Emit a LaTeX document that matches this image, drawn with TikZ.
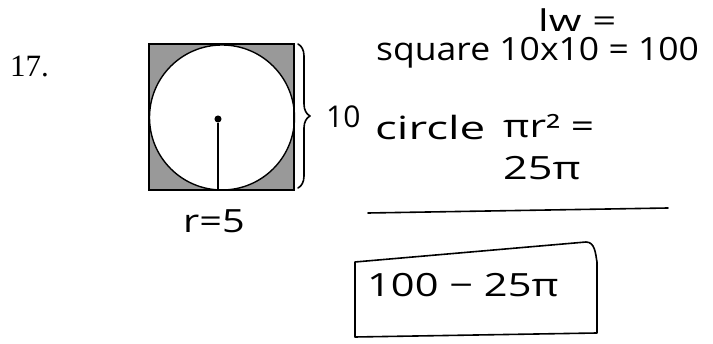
\documentclass[tikz,border=0pt]{standalone}
\usepackage{fontspec}
\setmainfont{Liberation Serif}
\newfontfamily\handfont{Open Sans}
\usetikzlibrary{decorations.pathreplacing,positioning}
\newcommand{\wider}[2]{\scalebox{#1}[1]{#2}}
\begin{document}
\begin{tikzpicture}[x=1pt, y=-1pt,
  hand/.style={font=\handfont\fontsize{32}{32}\selectfont, inner sep=0pt, anchor=base west},
  ink/.style={line width=1.6pt, line cap=round, line join=round}]
\useasboundingbox (0,0) rectangle (713,344);
% the figure
\coordinate (sq) at (222,117.5);
\fill[black!40] (149,44) rectangle (294,190);
\fill[white] (sq) circle (72.5);
\draw[line width=2pt] (149,44) rectangle (294,190);
\draw[line width=1.4pt] (sq) circle (72.5);
\node[circle, fill, inner sep=2.5pt] (ctr) at (218,119) {};
\coordinate (foot) at (218,190);
\draw[line width=1.8pt] (ctr) -- (foot);
\node[font=\fontsize{31}{31}\selectfont, anchor=base west, inner sep=0pt] (num) at (10,77) {17.};
\node[hand] (rad) at (183,233) {\wider{1.24}{r=5}};
\draw[ink, decorate, decoration={brace, amplitude=12pt}] (298,44) -- (298,188);
\node[hand, font=\handfont\fontsize{30}{30}\selectfont] (side) at (326,128) {10};
% the working
\node[hand, font=\handfont\fontsize{30}{30}\selectfont] (lw) at (538,32) {\wider{1.4}{lw =}};
\node[hand] (sqline) at (376,61) {\wider{1.11}{square 10x10 = 100}};
\node[hand] (circ) at (375,140) {\wider{1.43}{circle}};
\node[hand] (pir) at (503,138) {\wider{1.27}{πr² =}};
\node[hand] (area) at (503,180) {\wider{1.35}{25π}};
\coordinate (ruleL) at (368,213);
\coordinate (ruleR) at (668,208);
\draw[ink] (ruleL) -- (ruleR);
\node[hand] (ans) at (367,297) {\wider{1.3}{100 − 25π}};
\draw[ink] (355,262) -- (586,242) to[out=0, in=100] (597,262)
  -- (597,333) -- (355,337) -- cycle;
\end{tikzpicture}
\end{document}
